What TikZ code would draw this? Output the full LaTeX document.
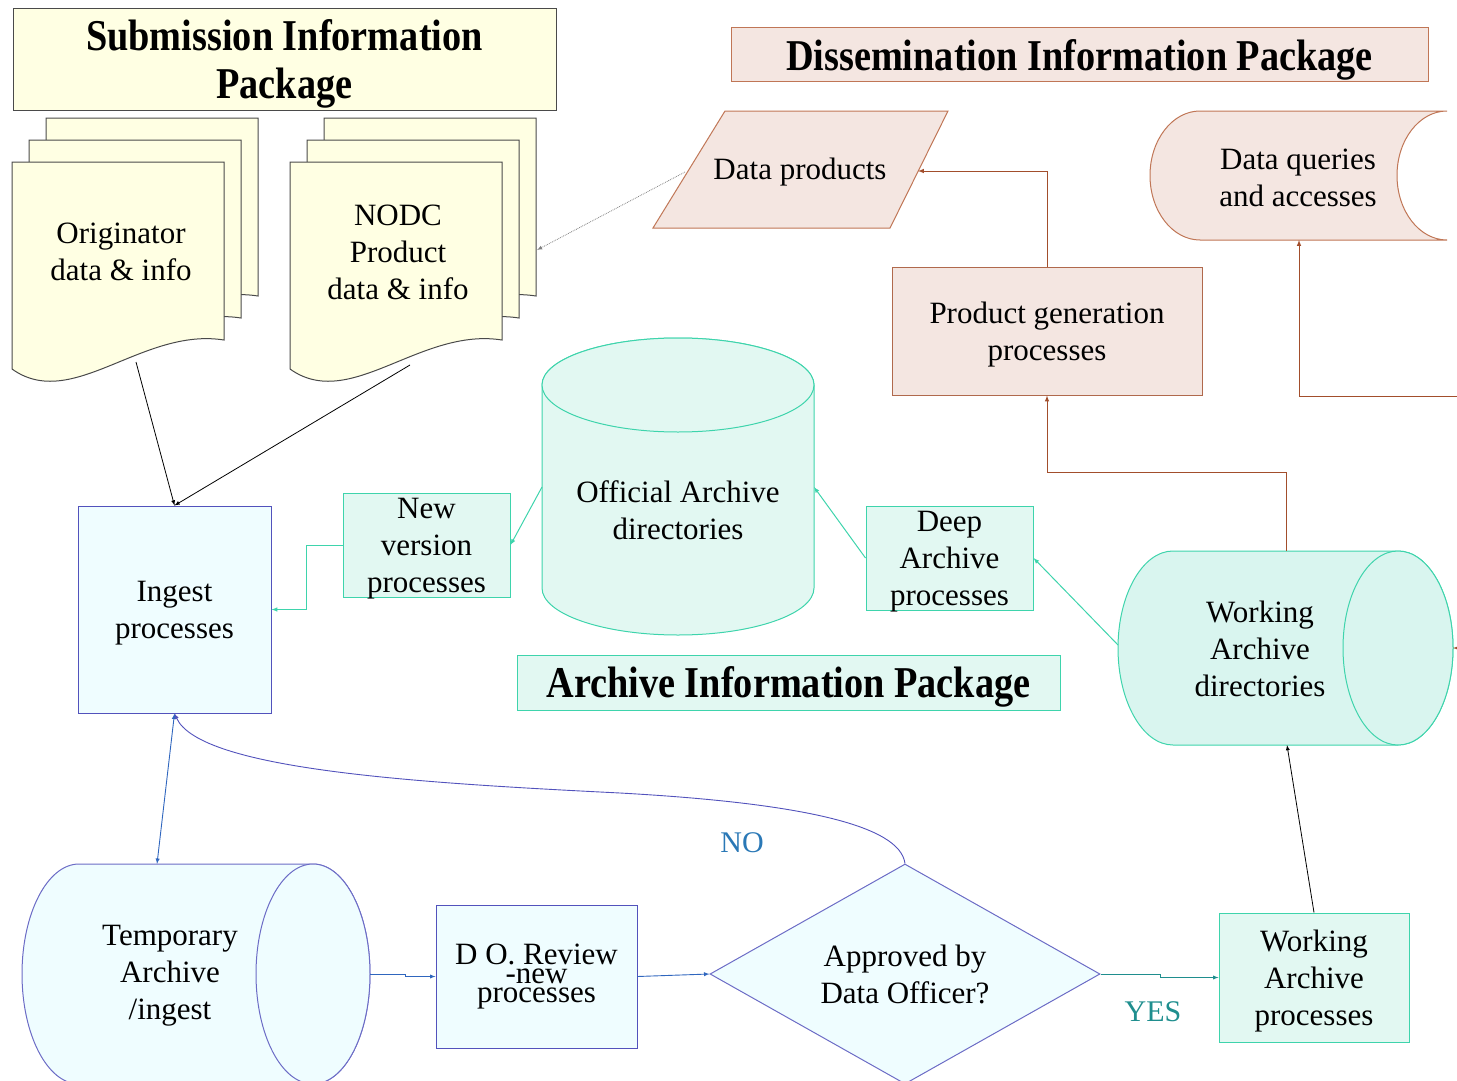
\documentclass[tikz,border=0pt]{standalone}
\usepackage{fontspec}
\setmainfont{Liberation Serif}
\newfontfamily\ttlfont[FakeStretch=0.87]{Liberation Serif}
\usetikzlibrary{shapes.geometric}
\definecolor{sipfill}{HTML}{FFFFE3}
\definecolor{sipline}{HTML}{4A4A4A}
\definecolor{dipfill}{HTML}{F4E6E1}
\definecolor{dipline}{HTML}{C07656}
\definecolor{brownarr}{HTML}{A24E2C}
\definecolor{aipfill}{HTML}{E2F8F2}
\definecolor{wafill}{HTML}{D9F5EF}
\definecolor{aipline}{HTML}{3ED4AC}
\definecolor{ingfill}{HTML}{EFFDFF}
\definecolor{ingline}{HTML}{5252BC}
\definecolor{bluearr}{HTML}{2F66BE}
\definecolor{notext}{HTML}{2A78B6}
\definecolor{yestext}{HTML}{1F8E8E}
\tikzset{
  >={latex},
  every node/.style={font=\fontsize{31}{37}\selectfont, align=center, inner sep=0pt},
  title/.style={font=\ttlfont\bfseries\fontsize{44}{48}\selectfont, text depth=0pt},
  sipbox/.style={draw=sipline, fill=sipfill, line width=1pt},
  dipbox/.style={draw=dipline, fill=dipfill, line width=1pt},
  aipbox/.style={draw=aipline, fill=aipfill, line width=1pt},
  ingbox/.style={draw=ingline, fill=ingfill, line width=1pt},
  boxtext/.style={text depth=0pt},
  blk/.style={->, black, line width=0.8pt},
  brn/.style={->, brownarr, line width=1pt},
  tel/.style={->, aipline, line width=1pt},
  blu/.style={->, bluearr, line width=0.9pt}
}
\newcommand\docpage[2]{%
  \draw[sipbox] (#1,#2) -- ({#1+212},#2) -- ({#1+212},{#2+178})
    .. controls ({#1+130},{#2+165}) and ({#1+60},{#2+250}) .. (#1,{#2+207}) -- cycle;}

\begin{document}
\begin{tikzpicture}[x=1pt,y=-1pt]
  \useasboundingbox (0,0) rectangle (1457,1081);

  % package titles
  \node[sipbox, title, minimum width=543, minimum height=101] (sip) at (284.5,59.5) {Submission Information\\Package};
  \node[dipbox, title, minimum width=697, minimum height=54] (dip) at (1079.5,55) {Dissemination Information Package};
  \node[aipbox, title, minimum width=543, minimum height=55] (aip) at (788.5,682.5) {Archive Information Package};

  % submission documents
  \foreach \px/\py in {46/118,29/140,12/162,324/118,307/140,290/162}
    \docpage{\px}{\py};
  \node (orig) at (121,252) {Originator\\data \& info};
  \node (nodc) at (398,252) {NODC\\Product\\data \& info};
  \coordinate (orig-b) at (136,362);
  \coordinate (nodc-b) at (410,365);
  \coordinate (nodc-r) at (537,250);

  % dissemination side
  \draw[dipbox] (725,111) -- (948,111) -- (890,228) -- (653,228) -- cycle;
  \node (dprod) at (800,172) {Data products};
  \coordinate (dprod-w) at (685,172);
  \coordinate (dprod-e) at (918,171);
  \draw[dipbox] (1447,111) -- (1200,111) arc (270:90:50 and 64.5) -- (1447,240) arc (90:270:50 and 64.5) -- cycle;
  \node (dq) at (1298,178) {Data queries\\and accesses};
  \coordinate (dq-s) at (1299,240);
  \node[dipbox, boxtext, draw=brownarr!85, minimum width=310, minimum height=128] (pgen) at (1047,331) {Product generation\\processes};

  % archive side
  \draw[aipbox] (542,385) -- (542,588) arc (180:0:136 and 47) -- (814,385) arc (0:-180:136 and 47) -- cycle;
  \draw[aipbox] (678,385) ellipse (136 and 47);
  \node (offarch) at (678,510) {Official Archive\\directories};
  \coordinate (offarch-w) at (542,487);
  \coordinate (offarch-e) at (814,487);
  \node[aipbox, boxtext, minimum width=167, minimum height=104] (newver) at (426.5,545) {New\\version\\processes};
  \node[aipbox, boxtext, minimum width=167, minimum height=104] (deep) at (949.5,558) {Deep\\Archive\\processes};
  \draw[aipbox, fill=wafill] (1173,551) -- (1398,551) arc (-90:90:55 and 97) -- (1173,745) arc (90:270:55 and 97) -- cycle;
  \draw[aipbox, fill=wafill] (1398,648) ellipse (55 and 97);
  \node (wadir) at (1260,649) {Working\\Archive\\directories};
  \coordinate (wadir-n) at (1286,551);
  \coordinate (wadir-s) at (1287,745);
  \coordinate (wadir-w) at (1118,645);
  \coordinate (wadir-e) at (1453,648);
  \node[aipbox, boxtext, minimum width=190, minimum height=129] (wap) at (1314,977.5) {Working\\Archive\\processes};

  % ingest side
  \node[ingbox, boxtext, minimum width=193, minimum height=207] (ingest) at (174.5,609.5) {Ingest\\processes};
  \draw[ingbox, draw=ingline!85] (79,864) -- (313,864) arc (-90:90:57 and 110) -- (79,1084) arc (90:270:57 and 110) -- cycle;
  \draw[ingbox, draw=ingline!85] (313,974) ellipse (57 and 110);
  \node (tmp) at (170,976) {Temporary\\Archive\\/ingest};
  \coordinate (tmp-n) at (157,864);
  \coordinate (tmp-e) at (370,974);
  \node[ingbox, minimum width=201, minimum height=143, font=\fontsize{31}{19}\selectfont] (dor) at (536.5,976.5) {D O. Review\\-new\\processes};
  \node[diamond, ingbox, draw=ingline!85, minimum width=390, minimum height=220, aspect=1.77] (appr) at (905,974) {Approved by\\Data Officer?};
  \node[text=notext, font=\fontsize{30}{36}\selectfont] (nolbl) at (742,843) {NO};
  \node[text=yestext, font=\fontsize{30}{36}\selectfont] (yeslbl) at (1153,1012) {YES};

  % free ends off the right edge
  \coordinate (offr) at (1470,396);
  \coordinate (offw) at (1470,648);

  % connectors
  \draw[blk] (orig-b) -- (ingest.north);
  \draw[blk] (nodc-b) -- (ingest.north);
  \draw[->, gray, densely dotted, line width=0.8pt] (dprod-w) -- (nodc-r);
  \draw[brn] (pgen.north) |- (dprod-e);
  \draw[brn] (wadir-n) -- ++(0,-79) -| (pgen.south);
  \draw[brn] (offr) -| (dq-s);
  \draw[brn] (offw) -- (wadir-e);
  \draw[tel] (wadir-w) -- (deep.east);
  \draw[tel] (deep.west) -- (offarch-e);
  \draw[tel] (offarch-w) -- (newver.east);
  \draw[tel] (newver.west) -- ++(-36,0) |- (ingest.east);
  \draw[blk] (wap.north) -- (wadir-s);
  \draw[blu, <->] (ingest.south) -- (tmp-n);
  \draw[blu] (tmp-e) -- ++(35,0) |- (dor.west);
  \draw[blu] (dor.east) -- (appr.west);
  \draw[->, ingline, line width=0.9pt] (appr.north) .. controls (900,825) and (800,803) .. (620,793)
    .. controls (420,783) and (200,770) .. (ingest.south);
  \draw[->, yestext, line width=0.9pt] (appr.east) -- ++(60,0) |- (wap.west);
\end{tikzpicture}
\end{document}
